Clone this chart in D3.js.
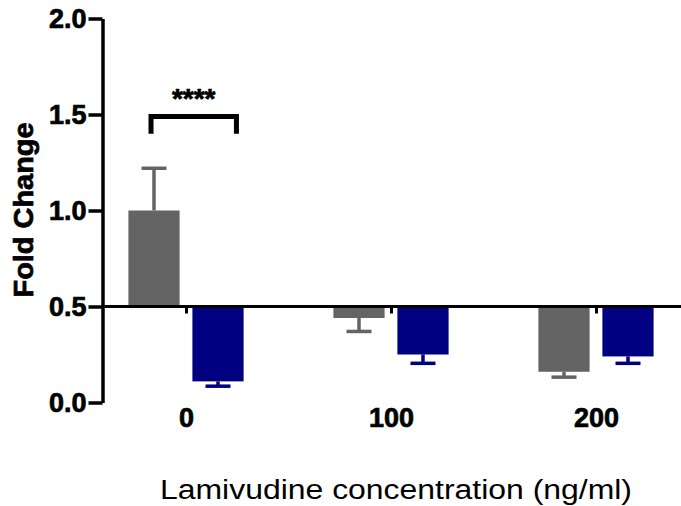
<!DOCTYPE html>
<html>
<head>
<meta charset="utf-8">
<script src="https://cdn.jsdelivr.net/npm/d3@7"></script>
<style>
  body { margin: 0; background: #fff; }
  svg { display: block; font-family: "Liberation Sans", Arial, sans-serif; }
</style>
</head>
<body>
<svg id="chart" width="681" height="506"></svg>
<script>
// data
const categories = ["0", "100", "200"];
const seriesNames = ["Group 1", "Group 2"];
const grayMeans = [1.0, 0.44, 0.16];
const grayErrors = [0.22, 0.07, 0.028];
const navyMeans = [0.11, 0.25, 0.24];
const navyErrors = [0.025, 0.046, 0.036];
const yTicks = [0, 0.5, 1.0, 1.5, 2.0];
const baseline = 0.5;
const sigLabel = "****";

const width = 681, height = 506;
const font = "'Liberation Sans', Arial, sans-serif";
const svg = d3.select("#chart");

const y = d3.scaleLinear().domain([0, 2]).range([402.5, 18.5]);
const x = d3.scalePoint().domain(categories).range([186, 596]);
const sub = d3.scaleBand().domain(seriesNames).range([-64, 64])
    .paddingInner(0.2).paddingOuter(0.1);
const colors = { "Group 1": "#646464", "Group 2": "#000080" };

const rows = [];
categories.forEach((c, i) => {
    rows.push({ cat: c, series: seriesNames[0], mean: grayMeans[i], err: grayErrors[i] });
    rows.push({ cat: c, series: seriesNames[1], mean: navyMeans[i], err: navyErrors[i] });
});

// bars, drawn from the 0.5 baseline
svg.append("g").selectAll("rect")
    .data(rows)
    .join("rect")
    .attr("x", d => x(d.cat) + sub(d.series))
    .attr("width", sub.bandwidth())
    .attr("y", d => Math.min(y(d.mean), y(baseline)))
    .attr("height", d => Math.abs(y(d.mean) - y(baseline)))
    .attr("fill", d => colors[d.series]);

// error bars point away from the baseline
const errEnd = d => d.mean >= baseline ? d.mean + d.err : d.mean - d.err;
const eg = svg.append("g").selectAll("g")
    .data(rows)
    .join("g")
    .attr("stroke", d => colors[d.series])
    .attr("stroke-width", 3.5);
eg.append("line")
    .attr("x1", d => x(d.cat) + sub(d.series) + sub.bandwidth() / 2)
    .attr("x2", d => x(d.cat) + sub(d.series) + sub.bandwidth() / 2)
    .attr("y1", d => y(d.mean))
    .attr("y2", d => y(errEnd(d)));
eg.append("line")
    .attr("x1", d => x(d.cat) + sub(d.series) + sub.bandwidth() / 2 - 12.5)
    .attr("x2", d => x(d.cat) + sub(d.series) + sub.bandwidth() / 2 + 12.5)
    .attr("y1", d => y(errEnd(d)))
    .attr("y2", d => y(errEnd(d)));

// heavier bold, like the original export
const boldText = sel => sel
    .attr("font-family", font).attr("font-weight", "bold")
    .attr("fill", "#000").attr("stroke", "#000").attr("stroke-width", 0.7);

// y axis
const yAxis = svg.append("g")
    .attr("transform", "translate(102.5,0)")
    .call(d3.axisLeft(y).tickValues(yTicks).tickFormat(d3.format(".1f"))
        .tickSize(14).tickSizeOuter(0).tickPadding(2));
yAxis.select(".domain").attr("stroke-width", 3.5);
yAxis.selectAll(".tick line").attr("stroke-width", 3.5);
yAxis.selectAll(".tick text").attr("font-size", 27).call(boldText);

// x axis sits on the baseline
svg.append("line")
    .attr("x1", 102).attr("x2", width)
    .attr("y1", y(baseline)).attr("y2", y(baseline))
    .attr("stroke", "#000").attr("stroke-width", 3);
const xAxis = svg.append("g")
    .attr("transform", `translate(0,${y(baseline)})`)
    .call(d3.axisBottom(x).tickSize(7).tickPadding(94));
xAxis.select(".domain").remove();
xAxis.selectAll(".tick line").attr("stroke-width", 3);
xAxis.selectAll(".tick text").attr("font-size", 27).call(boldText);

// significance bracket
const bx1 = x(categories[0]) + sub(seriesNames[0]) + sub.bandwidth() / 2 - 3;
const bx2 = x(categories[0]) + sub(seriesNames[1]) + sub.bandwidth() * 0.86;
svg.append("path")
    .attr("d", `M${bx1},${y(1.4)}V${y(1.49)}H${bx2}V${y(1.4)}`)
    .attr("fill", "none").attr("stroke", "#000").attr("stroke-width", 5);
svg.append("text")
    .attr("x", (bx1 + bx2) / 2).attr("y", 108)
    .attr("text-anchor", "middle")
    .attr("font-size", 28)
    .call(boldText)
    .text(sigLabel);

// axis titles
svg.append("text")
    .attr("transform", "translate(33,210) rotate(-90)")
    .attr("text-anchor", "middle")
    .attr("font-size", 27)
    .call(boldText)
    .attr("textLength", 175).attr("lengthAdjust", "spacingAndGlyphs")
    .text("Fold Change");
svg.append("text")
    .attr("x", 396).attr("y", 499)
    .attr("text-anchor", "middle")
    .attr("font-size", 27)
    .attr("textLength", 472).attr("lengthAdjust", "spacingAndGlyphs")
    .text("Lamivudine concentration (ng/ml)");
</script>
</body>
</html>
